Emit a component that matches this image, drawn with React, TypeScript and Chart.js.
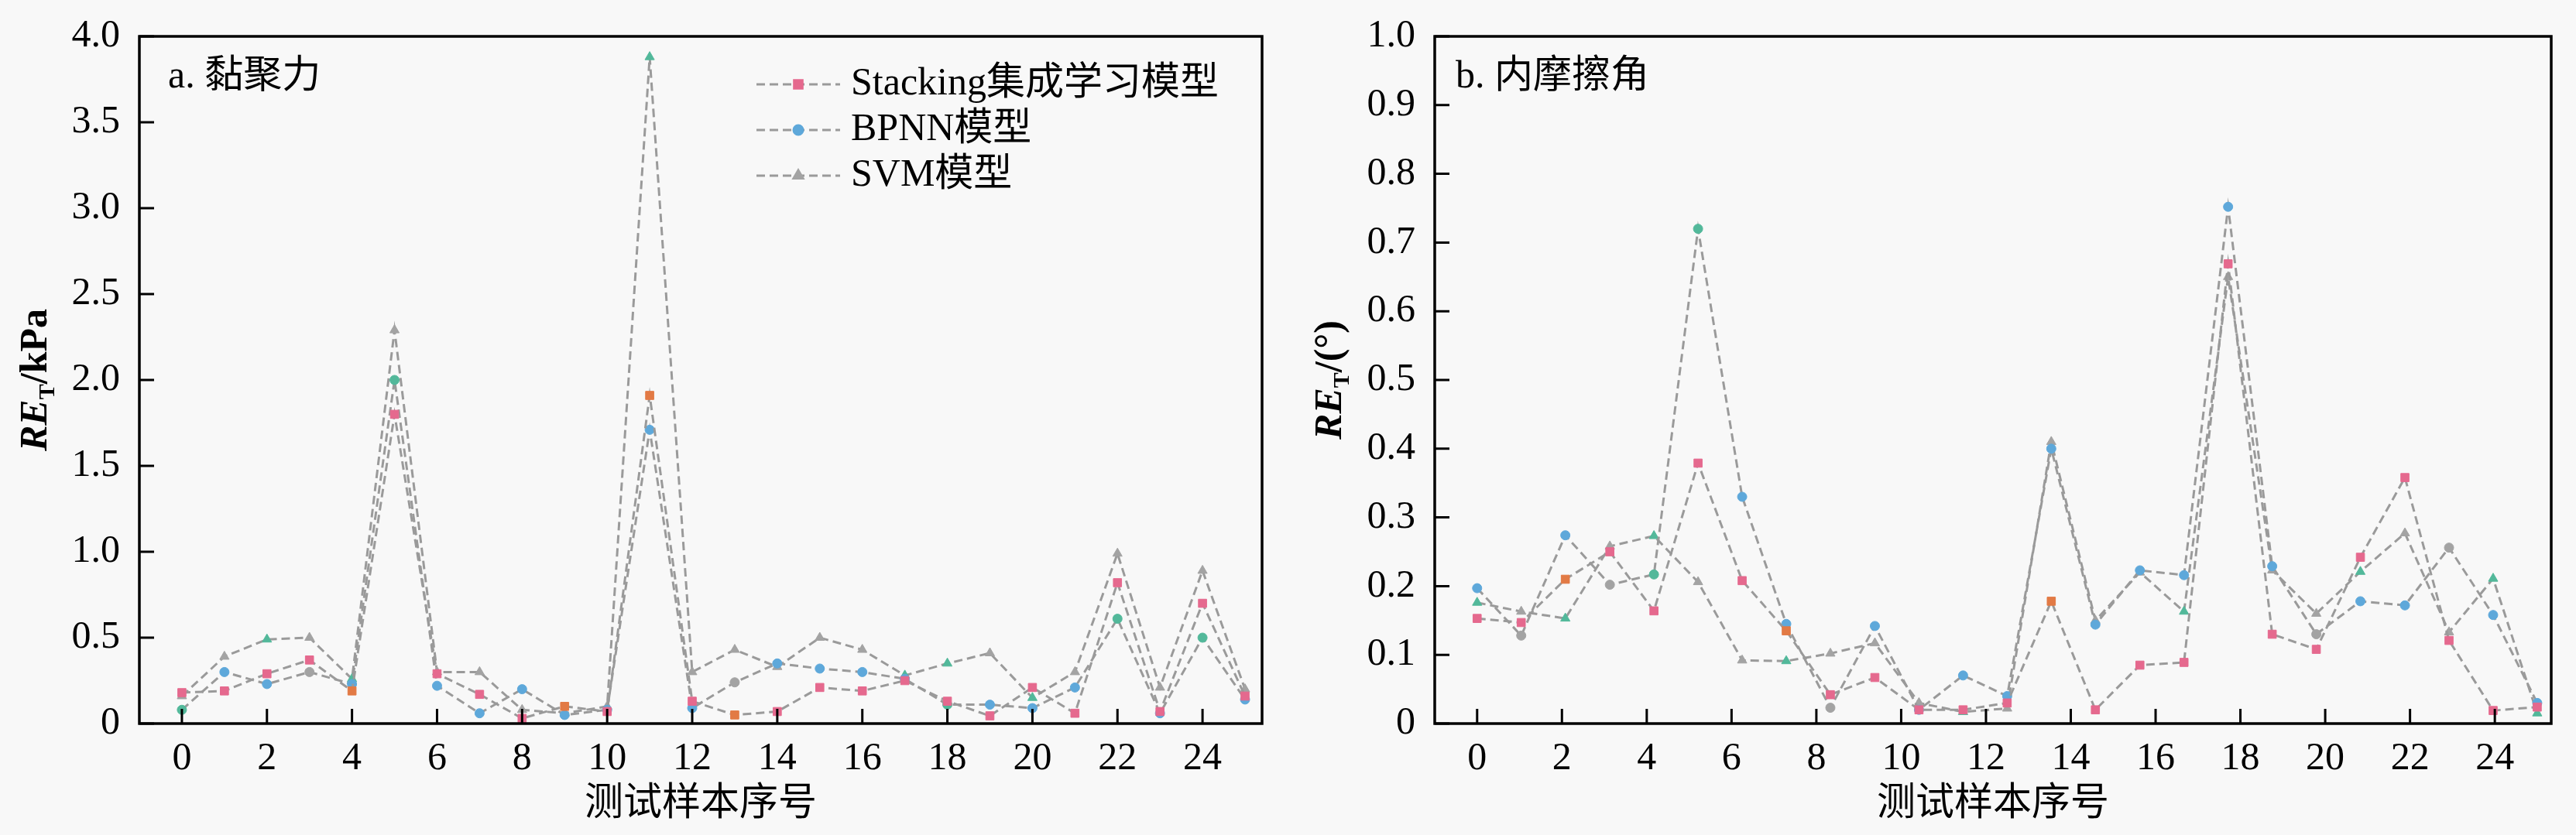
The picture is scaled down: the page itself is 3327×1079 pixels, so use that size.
import { useEffect, useRef } from "react";
import { Chart, registerables } from "chart.js";
import type { ChartConfiguration, Plugin } from "chart.js";
import { drawPoint } from "chart.js/helpers";

Chart.register(...registerables);

const FONT = "'Liberation Serif', 'Times New Roman', 'Noto Sans CJK SC', serif";
const LINE_GREY = "#9a9a9a";
const ORANGE = "#e27a45";
const GREEN = "#52b89a";
const GREY = "#a3a3a3";

const seriesNames = ["Stacking集成学习模型", "BPNN模型", "SVM模型"];
const seriesColors = ["#e5698e", "#5ea8da", "#a3a3a3"];
const seriesMarkers = ["rect", "circle", "triangle"];
const seriesRadius = [7.5, 6, 7];

const xTickValues = [0, 2, 4, 6, 8, 10, 12, 14, 16, 18, 20, 22, 24];

// a. 黏聚力 (kPa)
const sampleA = [0, 1, 2, 3, 4, 5, 6, 7, 8, 9, 10, 11, 12, 13, 14, 15, 16, 17, 18, 19, 20, 21, 22, 23, 24, 25];
const stackingA = [0.18, 0.19, 0.29, 0.37, 0.19, 1.8, 0.29, 0.17, 0.03, 0.1, 0.07, 1.91, 0.13, 0.05, 0.07, 0.21, 0.19, 0.25, 0.13, 0.045, 0.21, 0.06, 0.82, 0.07, 0.7, 0.16];
const bpnnA = [0.08, 0.3, 0.23, 0.3, 0.23, 2.0, 0.22, 0.06, 0.2, 0.05, 0.08, 1.71, 0.09, 0.24, 0.35, 0.32, 0.3, 0.26, 0.11, 0.11, 0.09, 0.21, 0.61, 0.06, 0.5, 0.14];
const svmA = [0.16, 0.39, 0.49, 0.5, 0.26, 2.29, 0.3, 0.3, 0.08, 0.06, 0.1, 3.88, 0.3, 0.43, 0.33, 0.5, 0.43, 0.28, 0.35, 0.41, 0.15, 0.3, 0.99, 0.21, 0.89, 0.2];

// b. 内摩擦角 (°)
const sampleB = [0, 1.04, 2.08, 3.13, 4.17, 5.21, 6.25, 7.29, 8.33, 9.38, 10.42, 11.46, 12.5, 13.54, 14.58, 15.63, 16.67, 17.71, 18.75, 19.79, 20.83, 21.88, 22.92, 23.96, 25.0];
const stackingB = [0.153, 0.147, 0.21, 0.25, 0.164, 0.379, 0.208, 0.135, 0.042, 0.067, 0.02, 0.02, 0.03, 0.178, 0.02, 0.085, 0.089, 0.669, 0.13, 0.108, 0.242, 0.358, 0.121, 0.019, 0.024];
const bpnnB = [0.197, 0.128, 0.274, 0.202, 0.217, 0.72, 0.33, 0.145, 0.023, 0.142, 0.02, 0.07, 0.04, 0.4, 0.144, 0.223, 0.216, 0.752, 0.229, 0.13, 0.178, 0.172, 0.256, 0.158, 0.03];
const svmB = [0.176, 0.163, 0.153, 0.258, 0.273, 0.206, 0.092, 0.091, 0.102, 0.117, 0.03, 0.017, 0.022, 0.41, 0.15, 0.22, 0.163, 0.65, 0.223, 0.16, 0.221, 0.277, 0.133, 0.211, 0.015];

// points whose marker is drawn in another colour (indices per series: Stacking, BPNN, SVM)
const accentA: Record<string, number[]>[] = [
  { [ORANGE]: [4, 9, 11, 13] },
  { [GREEN]: [0, 5, 18, 22, 24], [GREY]: [3, 13] },
  { [GREEN]: [2, 4, 11, 17, 18, 20] },
];
const accentB: Record<string, number[]>[] = [
  { [ORANGE]: [2, 7, 13] },
  { [GREEN]: [4, 5], [GREY]: [1, 3, 8, 19, 22] },
  { [GREEN]: [0, 2, 4, 7, 11, 16, 20, 23, 24] },
];

// frame box + inward tick marks
const frameTicks: Plugin<"line"> = {
  id: "frameTicks",
  afterDraw(chart) {
    const { ctx, chartArea: a, scales } = chart;
    ctx.save();
    ctx.strokeStyle = "#000";
    ctx.lineWidth = 3;
    ctx.beginPath();
    scales.x.ticks.forEach((t) => {
      const px = scales.x.getPixelForValue(t.value);
      ctx.moveTo(px, a.bottom);
      ctx.lineTo(px, a.bottom - 19);
    });
    scales.y.ticks.forEach((t) => {
      const py = scales.y.getPixelForValue(t.value);
      ctx.moveTo(a.left, py);
      ctx.lineTo(a.left + 19, py);
    });
    ctx.stroke();
    ctx.lineWidth = 3.5;
    ctx.strokeRect(a.left, a.top, a.right - a.left, a.bottom - a.top);
    ctx.restore();
  },
};

function yTitle(unit: string, centerX: number): Plugin<"line"> {
  return {
    id: "yTitle",
    afterDraw(chart) {
      const { ctx, chartArea: a } = chart;
      const parts = [
        { text: "RE", font: `italic bold 50px ${FONT}`, dy: 0 },
        { text: "T", font: `bold 30px ${FONT}`, dy: 10 },
        { text: unit, font: `bold 50px ${FONT}`, dy: 0 },
      ];
      ctx.save();
      ctx.translate(centerX, (a.top + a.bottom) / 2);
      ctx.rotate(-Math.PI / 2);
      ctx.fillStyle = "#000";
      ctx.textBaseline = "alphabetic";
      let total = 0;
      const widths = parts.map((p) => {
        ctx.font = p.font;
        const w = ctx.measureText(p.text).width;
        total += w;
        return w;
      });
      let u = -total / 2;
      parts.forEach((p, i) => {
        ctx.font = p.font;
        ctx.fillText(p.text, u, 16 + p.dy);
        u += widths[i];
      });
      ctx.restore();
    },
  };
}

function panelTag(text: string, dx: number, dy: number): Plugin<"line"> {
  return {
    id: "panelTag",
    afterDraw(chart) {
      const { ctx, chartArea: a } = chart;
      ctx.save();
      ctx.font = `50px ${FONT}`;
      ctx.fillStyle = "#000";
      ctx.textBaseline = "middle";
      ctx.fillText(text, a.left + dx, a.top + dy);
      ctx.restore();
    },
  };
}

const insetLegend: Plugin<"line"> = {
  id: "insetLegend",
  afterDraw(chart) {
    const { ctx, chartArea: a } = chart;
    chart.data.datasets.forEach((ds: any, i) => {
      const y = a.top + 62 + i * 59;
      const x0 = a.right - 653;
      const x1 = x0 + 108;
      ctx.save();
      ctx.strokeStyle = ds.borderColor;
      ctx.lineWidth = ds.borderWidth;
      ctx.setLineDash(ds.borderDash);
      ctx.beginPath();
      ctx.moveTo(x0, y);
      ctx.lineTo(x1, y);
      ctx.stroke();
      ctx.setLineDash([]);
      ctx.fillStyle = seriesColors[i];
      ctx.strokeStyle = seriesColors[i];
      drawPoint(ctx, { pointStyle: ds.pointStyle, radius: ds.pointRadius, borderWidth: 1, rotation: 0 }, (x0 + x1) / 2, y);
      ctx.font = `50px ${FONT}`;
      ctx.fillStyle = "#000";
      ctx.textBaseline = "middle";
      ctx.fillText(ds.label, a.right - 531, y);
      ctx.restore();
    });
  },
};

interface PanelProps {
  left: number;
  width: number;
  xs: number[];
  series: number[][];
  accents: Record<string, number[]>[];
  xMax: number;
  yMax: number;
  yStep: number;
  axisWidth: number;
  padRight: number;
  plugins: Plugin<"line">[];
}

function markerColors(s: number, count: number, accent: Record<string, number[]>) {
  const colors: string[] = [];
  for (let i = 0; i < count; i++) {
    let c = seriesColors[s];
    Object.entries(accent).forEach(([color, idx]) => {
      if (idx.includes(i)) c = color;
    });
    colors.push(c);
  }
  return colors;
}

function Panel({ left, width, xs, series, accents, xMax, yMax, yStep, axisWidth, padRight, plugins }: PanelProps) {
  const canvasRef = useRef<HTMLCanvasElement>(null);
  useEffect(() => {
    if (!canvasRef.current) return;
    const config: ChartConfiguration<"line"> = {
      type: "line",
      data: {
        datasets: series.map((vals, s) => {
          const colors = markerColors(s, xs.length, accents[s]);
          return {
            label: seriesNames[s],
            data: xs.map((x, i) => ({ x, y: vals[i] })),
            borderColor: LINE_GREY,
            borderWidth: 3,
            borderDash: [11, 6],
            tension: 0,
            pointStyle: seriesMarkers[s] as any,
            pointRadius: seriesRadius[s],
            pointBackgroundColor: colors,
            pointBorderColor: colors,
            pointBorderWidth: 1,
          };
        }),
      },
      options: {
        responsive: false,
        animation: false,
        devicePixelRatio: 1,
        layout: { padding: { left: 0, right: padRight, top: 27, bottom: 0 } },
        plugins: { legend: { display: false }, tooltip: { enabled: false } },
        scales: {
          x: {
            type: "linear",
            min: -1,
            max: xMax,
            grid: { display: false },
            border: { display: false },
            afterBuildTicks: (scale) => {
              scale.ticks = xTickValues.map((value) => ({ value }));
            },
            afterFit: (scale) => {
              scale.height = 144;
            },
            ticks: { padding: 8, color: "#000", font: { family: FONT, size: 50 } },
            title: {
              display: true,
              text: "测试样本序号",
              color: "#000",
              font: { family: FONT, size: 50 },
              padding: { top: 0, bottom: 9 },
            },
          },
          y: {
            min: 0,
            max: yMax,
            grid: { display: false },
            border: { display: false },
            afterFit: (scale) => {
              scale.width = axisWidth;
            },
            ticks: {
              stepSize: yStep,
              padding: 17,
              color: "#000",
              font: { family: FONT, size: 50 },
              callback: (v) => (Number(v) === 0 ? "0" : Number(v).toFixed(1)),
            },
          },
        },
      },
      plugins: [frameTicks, ...plugins],
    };
    const chart = new Chart(canvasRef.current, config);
    return () => chart.destroy();
  }, []);

  return (
    <canvas
      ref={canvasRef}
      width={width}
      height={1079}
      style={{ position: "absolute", left, top: 0, width, height: 1079 }}
    />
  );
}

export default function App() {
  return (
    <div style={{ position: "absolute", left: 0, top: 0, width: 3327, height: 1079, background: "#f8f8f8", overflow: "hidden" }}>
      <Panel
        left={0}
        width={1660}
        xs={sampleA}
        series={[stackingA, bpnnA, svmA]}
        accents={accentA}
        xMax={25.4}
        yMax={4}
        yStep={0.5}
        axisWidth={180}
        padRight={30}
        plugins={[yTitle("/kPa", 44), panelTag("a. 黏聚力", 37, 53), insetLegend]}
      />
      <Panel
        left={1660}
        width={1667}
        xs={sampleB}
        series={[stackingB, bpnnB, svmB]}
        accents={accentB}
        xMax={25.33}
        yMax={1}
        yStep={0.1}
        axisWidth={193}
        padRight={32}
        plugins={[yTitle("/(°)", 56), panelTag("b. 内摩擦角", 27, 53)]}
      />
    </div>
  );
}
